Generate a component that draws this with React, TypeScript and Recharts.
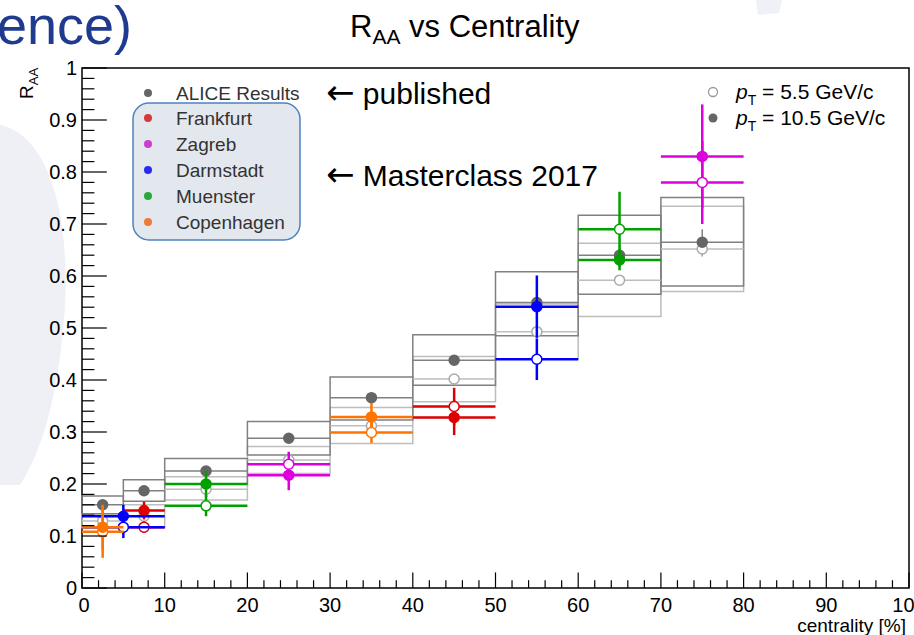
import React from "react";
import {
    ComposedChart,
    XAxis,
    YAxis,
    Scatter,
    ReferenceArea,
    ReferenceLine,
} from "recharts";

const FONT = "'Liberation Sans', Arial, Helvetica, sans-serif";

// centrality bins of the published ALICE points
const binLo = [0, 5, 10, 20, 30, 40, 50, 60, 70];
const binHi = [5, 10, 20, 30, 40, 50, 60, 70, 80];

// ALICE, pT = 10.5 GeV/c (filled)
const alice10 = [0.16, 0.187, 0.225, 0.288, 0.366, 0.438, 0.549, 0.64, 0.665];
const alice10Stat = [0.006, 0.006, 0.008, 0.008, 0.01, 0.01, 0.012, 0.02, 0.025];
const alice10SysLo = [0.143, 0.167, 0.2, 0.256, 0.323, 0.39, 0.485, 0.565, 0.581];
const alice10SysHi = [0.177, 0.208, 0.249, 0.32, 0.406, 0.487, 0.608, 0.717, 0.751];

// ALICE, pT = 5.5 GeV/c (open)
const alice5 = [0.129, 0.138, 0.19, 0.246, 0.312, 0.402, 0.493, 0.592, 0.652];
const alice5Stat = [0.005, 0.005, 0.006, 0.006, 0.008, 0.008, 0.01, 0.01, 0.015];
const alice5SysLo = [0.116, 0.117, 0.169, 0.22, 0.278, 0.358, 0.44, 0.522, 0.57];
const alice5SysHi = [0.143, 0.16, 0.214, 0.272, 0.347, 0.445, 0.546, 0.663, 0.734];

// masterclass 2017 results
const frankfurtLo = [5, 40];
const frankfurtHi = [10, 50];
const frankfurt10 = [0.149, 0.328];
const frankfurt10Err = [0.017, 0.034];
const frankfurt5 = [0.117, 0.349];
const frankfurt5Err = [0.011, 0.036];

const zagrebLo = [20, 70];
const zagrebHi = [30, 80];
const zagreb10 = [0.217, 0.83];
const zagreb10Err = [0.029, 0.1];
const zagreb5 = [0.238, 0.78];
const zagreb5Err = [0.024, 0.08];

const darmstadtLo = [0, 50];
const darmstadtHi = [10, 60];
const darmstadt10 = [0.138, 0.541];
const darmstadt10Err = [0.022, 0.06];
const darmstadt5 = [0.117, 0.44];
const darmstadt5Err = [0.021, 0.04];

const muensterLo = [10, 60];
const muensterHi = [20, 70];
const muenster10 = [0.2, 0.631];
const muenster10Err = [0.025, 0.02];
const muenster5 = [0.158, 0.69];
const muenster5Err = [0.02, 0.072];

const copenhagenLo = [0, 30];
const copenhagenHi = [5, 40];
const copenhagen10 = [0.117, 0.329];
const copenhagen10Err = [0.043, 0.027];
const copenhagen5 = [0.108, 0.299];
const copenhagen5Err = [0.05, 0.02];

// axis ticks
const xTicks = Array.from({ length: 51 }, (_, i) => i * 2);
const xTickLabels = ["0", "10", "20", "30", "40", "50", "60", "70", "80", "90", "100"];
const yTicks = Array.from({ length: 51 }, (_, i) => i * 0.02);
const yTickLabels = ["0", "0.1", "0.2", "0.3", "0.4", "0.5", "0.6", "0.7", "0.8", "0.9", "1"];

const DARK = "#808080";
const LIGHT = "#bdbdbd";

const GROUPS = [
    { name: "Frankfurt", color: "#dd0000", dot: "#d43a3a", lo: frankfurtLo, hi: frankfurtHi, v10: frankfurt10, e10: frankfurt10Err, v5: frankfurt5, e5: frankfurt5Err },
    { name: "Zagreb", color: "#dd00dd", dot: "#cc3fcc", lo: zagrebLo, hi: zagrebHi, v10: zagreb10, e10: zagreb10Err, v5: zagreb5, e5: zagreb5Err },
    { name: "Darmstadt", color: "#0000ff", dot: "#2b2bee", lo: darmstadtLo, hi: darmstadtHi, v10: darmstadt10, e10: darmstadt10Err, v5: darmstadt5, e5: darmstadt5Err },
    { name: "Muenster", color: "#00a000", dot: "#2aa83a", lo: muensterLo, hi: muensterHi, v10: muenster10, e10: muenster10Err, v5: muenster5, e5: muenster5Err },
    { name: "Copenhagen", color: "#ff7300", dot: "#ee7a35", lo: copenhagenLo, hi: copenhagenHi, v10: copenhagen10, e10: copenhagen10Err, v5: copenhagen5, e5: copenhagen5Err },
];

const XTick = (props: any) => {
    const { x, y, payload } = props;
    const v = payload.value;
    const major = v % 10 === 0;
    return (
        <g>
            <line x1={x} x2={x} y1={y} y2={y - (major ? 15.6 : 7.8)} stroke="#000" strokeWidth={1.2} />
            {major && (
                <text x={v === 0 ? x + 2 : x} y={y + 24} textAnchor="middle" fontFamily={FONT} fontSize={20} fill="#000">
                    {xTickLabels[v / 10]}
                </text>
            )}
        </g>
    );
};

const YTick = (props: any) => {
    const { x, y, payload } = props;
    const idx = Math.round(payload.value * 50);
    const major = idx % 5 === 0;
    return (
        <g>
            <line x1={x} x2={x + (major ? 24.8 : 12.4)} y1={y} y2={y} stroke="#000" strokeWidth={1.2} />
            {major && (
                <text x={x - 5} y={y + 7} textAnchor="end" fontFamily={FONT} fontSize={20} fill="#000">
                    {yTickLabels[idx / 5]}
                </text>
            )}
        </g>
    );
};

const dotShape = (fill: string, stroke: string) => (p: any) => (
    <circle cx={p.cx} cy={p.cy} r={5} fill={fill} stroke={stroke} strokeWidth={1.5} />
);

const ARROW_FONT = "'DejaVu Sans', sans-serif";

export default function App() {
    const aliceFilled = binLo.map((lo, i) => ({ x: (lo + binHi[i]) / 2, y: alice10[i] }));
    const aliceOpen = binLo.map((lo, i) => ({ x: (lo + binHi[i]) / 2, y: alice5[i] }));

    return (
        <div style={{ position: "absolute", left: 0, top: 0, width: 914, height: 635, background: "#fff", overflow: "hidden" }}>
            {/* slide background swoosh */}
            <svg width={914} height={635} style={{ position: "absolute", left: 0, top: 0 }}>
                <path d="M0,125 C50,135 72,220 64,320 C57,400 42,450 20,485 L0,485 Z" fill="#eef0f6" />
                <path d="M756,0 L782,0 L779,13 L758,15 Z" fill="#eff1f6" />
            </svg>

            <div style={{ position: "absolute", left: 0, top: 0 }}>
                <ComposedChart width={914} height={635} margin={{ top: 68, right: 5, left: 42, bottom: 17 }}>
                    <XAxis
                        dataKey="x"
                        type="number"
                        domain={[0, 100]}
                        ticks={xTicks}
                        interval={0}
                        height={30}
                        axisLine={false}
                        tickLine={false}
                        tickSize={0}
                        tickMargin={0}
                        tick={XTick}
                    />
                    <YAxis
                        type="number"
                        domain={[0, 1]}
                        ticks={yTicks}
                        interval={0}
                        width={40}
                        axisLine={false}
                        tickLine={false}
                        tickSize={0}
                        tickMargin={0}
                        tick={YTick}
                    />

                    {/* frame */}
                    <ReferenceArea x1={0} x2={100} y1={0} y2={1} fill="none" stroke="#000" strokeWidth={1.5} zIndex={90} />

                    {/* ALICE systematic boxes */}
                    {binLo.map((lo, i) => (
                        <ReferenceArea key={`s5-${i}`} x1={lo} x2={binHi[i]} y1={alice5SysLo[i]} y2={alice5SysHi[i]} fill="none" stroke={LIGHT} strokeWidth={1.5} zIndex={100} />
                    ))}
                    {binLo.map((lo, i) => (
                        <ReferenceArea key={`s10-${i}`} x1={lo} x2={binHi[i]} y1={alice10SysLo[i]} y2={alice10SysHi[i]} fill="none" stroke={DARK} strokeWidth={1.5} zIndex={101} />
                    ))}

                    {/* ALICE bin-width and stat bars */}
                    {binLo.map((lo, i) => (
                        <ReferenceLine key={`h5-${i}`} segment={[{ x: lo, y: alice5[i] }, { x: binHi[i], y: alice5[i] }]} stroke={LIGHT} strokeWidth={1.5} zIndex={110} />
                    ))}
                    {binLo.map((lo, i) => (
                        <ReferenceLine key={`v5-${i}`} segment={[{ x: (lo + binHi[i]) / 2, y: alice5[i] - alice5Stat[i] }, { x: (lo + binHi[i]) / 2, y: alice5[i] + alice5Stat[i] }]} stroke={LIGHT} strokeWidth={1.5} zIndex={110} />
                    ))}
                    {binLo.map((lo, i) => (
                        <ReferenceLine key={`h10-${i}`} segment={[{ x: lo, y: alice10[i] }, { x: binHi[i], y: alice10[i] }]} stroke={DARK} strokeWidth={1.5} zIndex={111} />
                    ))}
                    {binLo.map((lo, i) => (
                        <ReferenceLine key={`v10-${i}`} segment={[{ x: (lo + binHi[i]) / 2, y: alice10[i] - alice10Stat[i] }, { x: (lo + binHi[i]) / 2, y: alice10[i] + alice10Stat[i] }]} stroke={DARK} strokeWidth={1.5} zIndex={111} />
                    ))}

                    <Scatter data={aliceOpen} dataKey="y" isAnimationActive={false} shape={dotShape("#fff", "#aaaaaa")} zIndex={600} />
                    <Scatter data={aliceFilled} dataKey="y" isAnimationActive={false} shape={dotShape("#666666", "#666666")} zIndex={601} />

                    {/* masterclass groups */}
                    {GROUPS.map((g, gi) =>
                        g.lo.map((lo, i) => {
                            const c = (lo + g.hi[i]) / 2;
                            return [
                                <ReferenceLine key={`${g.name}-h5-${i}`} segment={[{ x: lo, y: g.v5[i] }, { x: g.hi[i], y: g.v5[i] }]} stroke={g.color} strokeWidth={2.5} zIndex={620 + gi * 4} />,
                                <ReferenceLine key={`${g.name}-h10-${i}`} segment={[{ x: lo, y: g.v10[i] }, { x: g.hi[i], y: g.v10[i] }]} stroke={g.color} strokeWidth={2.5} zIndex={620 + gi * 4} />,
                                <ReferenceLine key={`${g.name}-v5-${i}`} segment={[{ x: c, y: g.v5[i] - g.e5[i] }, { x: c, y: g.v5[i] + g.e5[i] }]} stroke={g.color} strokeWidth={2.5} zIndex={620 + gi * 4} />,
                                <ReferenceLine key={`${g.name}-v10-${i}`} segment={[{ x: c, y: g.v10[i] - g.e10[i] }, { x: c, y: g.v10[i] + g.e10[i] }]} stroke={g.color} strokeWidth={2.5} zIndex={620 + gi * 4} />,
                            ];
                        })
                    )}
                    {GROUPS.map((g, gi) => (
                        <Scatter
                            key={`${g.name}-open`}
                            data={g.lo.map((lo, i) => ({ x: (lo + g.hi[i]) / 2, y: g.v5[i] }))}
                            dataKey="y"
                            isAnimationActive={false}
                            shape={dotShape("#fff", g.color)}
                            zIndex={622 + gi * 4}
                        />
                    ))}
                    {GROUPS.map((g, gi) => (
                        <Scatter
                            key={`${g.name}-filled`}
                            data={g.lo.map((lo, i) => ({ x: (lo + g.hi[i]) / 2, y: g.v10[i] }))}
                            dataKey="y"
                            isAnimationActive={false}
                            shape={dotShape(g.color, g.color)}
                            zIndex={623 + gi * 4}
                        />
                    ))}
                </ComposedChart>
            </div>

            {/* titles, labels and legends */}
            <svg width={914} height={635} style={{ position: "absolute", left: 0, top: 0, pointerEvents: "none" }} fontFamily={FONT}>
                <text x={-3} y={44} fontSize={54} fill="#1f3b8f">ence)</text>

                <text x={350} y={37} fontSize={31} fill="#000">
                    R<tspan fontSize={21} dy={7}>AA</tspan>
                    <tspan dy={-7}> vs Centrality</tspan>
                </text>

                <text transform="translate(33,99) rotate(-90)" fontSize={19} fill="#000">
                    R<tspan fontSize={13} dy={5}>AA</tspan>
                </text>
                <text x={906} y={632} textAnchor="end" fontSize={19} fill="#000">centrality [%]</text>

                {/* group legend */}
                <rect x={133} y={103} width={167} height={137} rx={16} fill="#e3e7ee" stroke="#4f81bd" strokeWidth={1.5} />
                <circle cx={148} cy={93} r={4} fill="#666666" />
                <text x={176} y={100} fontSize={19} fill="#333">ALICE Results</text>
                {GROUPS.map((g, i) => (
                    <g key={g.name}>
                        <circle cx={148} cy={118 + i * 26} r={4} fill={g.dot} />
                        <text x={176} y={125 + i * 26} fontSize={19} fill="#333">{g.name}</text>
                    </g>
                ))}

                <text x={326} y={104} fontSize={30} fill="#000">
                    <tspan fontFamily={ARROW_FONT} fontSize={34}>←</tspan> published
                </text>
                <text x={326} y={186} fontSize={30} fill="#000">
                    <tspan fontFamily={ARROW_FONT} fontSize={34}>←</tspan> Masterclass 2017
                </text>

                {/* pT legend */}
                <circle cx={713} cy={92} r={4.5} fill="#fff" stroke="#999" strokeWidth={1.3} />
                <text x={736} y={99} fontSize={21} fill="#000">
                    <tspan fontStyle="italic">p</tspan>
                    <tspan fontSize={14} dy={6}>T</tspan>
                    <tspan dy={-6}> = 5.5 GeV/c</tspan>
                </text>
                <circle cx={713} cy={118} r={4.5} fill="#666666" />
                <text x={736} y={125} fontSize={21} fill="#000">
                    <tspan fontStyle="italic">p</tspan>
                    <tspan fontSize={14} dy={6}>T</tspan>
                    <tspan dy={-6}> = 10.5 GeV/c</tspan>
                </text>
            </svg>
        </div>
    );
}
